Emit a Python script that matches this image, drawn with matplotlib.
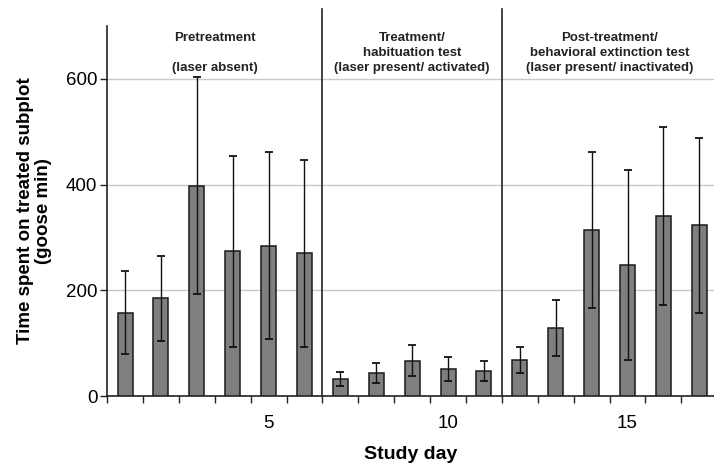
import matplotlib
matplotlib.use("Agg")
import matplotlib.pyplot as plt
import numpy as np

plt.rcParams['font.family'] = ['Liberation Sans', 'DejaVu Sans']

days = np.arange(1, 18)
mean_time = [158, 185, 398, 274, 284, 270, 32, 44, 67, 51, 47, 68, 129, 314, 248, 341, 323]
err_time = [79, 80, 205, 181, 177, 177, 13, 19, 30, 23, 19, 25, 53, 148, 180, 168, 166]
phase_bounds = [6.5, 11.5]
phase_labels = ["Pretreatment\n\n(laser absent)",
                "Treatment/\nhabituation test\n(laser present/ activated)",
                "Post-treatment/\nbehavioral extinction test\n(laser present/ inactivated)"]
phase_centers = [3.5, 9.0, 14.5]

fig = plt.figure(figsize=(7.14, 4.70), dpi=100)
ax = fig.add_axes([0.150, 0.1574, 0.850, 0.7873])

ax.bar(days, mean_time, width=0.42, color='#7f7f7f', edgecolor='#1a1a1a', linewidth=1.1, zorder=3)
ax.errorbar(days, mean_time, yerr=err_time, fmt='none', ecolor='#111111',
            elinewidth=1.0, capsize=3, capthick=1.3, zorder=4)

ax.set_xlim(0.5, 17.41)
ax.set_ylim(0, 700)
ax.set_yticks([0, 200, 400, 600])
ax.yaxis.grid(True, color='#c8c8c8', linewidth=1.0, zorder=0)
ax.set_axisbelow(True)

# category-boundary ticks, labels only at 5, 10, 15
ax.set_xticks(np.arange(0.5, 17.5, 1.0))
ax.set_xticklabels([])
ax.set_xticks([5, 10, 15], minor=True)
ax.set_xticklabels(['5', '10', '15'], minor=True)
ax.tick_params(axis='x', which='major', direction='out', length=5, width=1, color='#222222')
ax.tick_params(axis='x', which='minor', length=0, pad=14, labelsize=13.5)
ax.tick_params(axis='y', direction='out', length=5, width=1, color='#222222', labelsize=13.5, pad=2)

for s in ['top', 'right']:
    ax.spines[s].set_visible(False)
for s in ['left', 'bottom']:
    ax.spines[s].set_color('#222222')
    ax.spines[s].set_linewidth(1.2)

for b in phase_bounds:
    ax.plot([b, b], [0, 732], color='#222222', linewidth=1.2, clip_on=False, zorder=5)

for cx, lab in zip(phase_centers, phase_labels):
    ax.text(cx, 688, lab, ha='center', va='top', fontsize=9.5, fontweight='bold',
            linespacing=1.3, color='#222222')

ax.set_ylabel("Time spent on treated subplot\n(goose min)", fontsize=13.5, fontweight='bold',
              labelpad=10, linespacing=1.1)
ax.set_xlabel("Study day", fontsize=14, fontweight='bold', labelpad=10)

fig.savefig("out.png", dpi=100)
